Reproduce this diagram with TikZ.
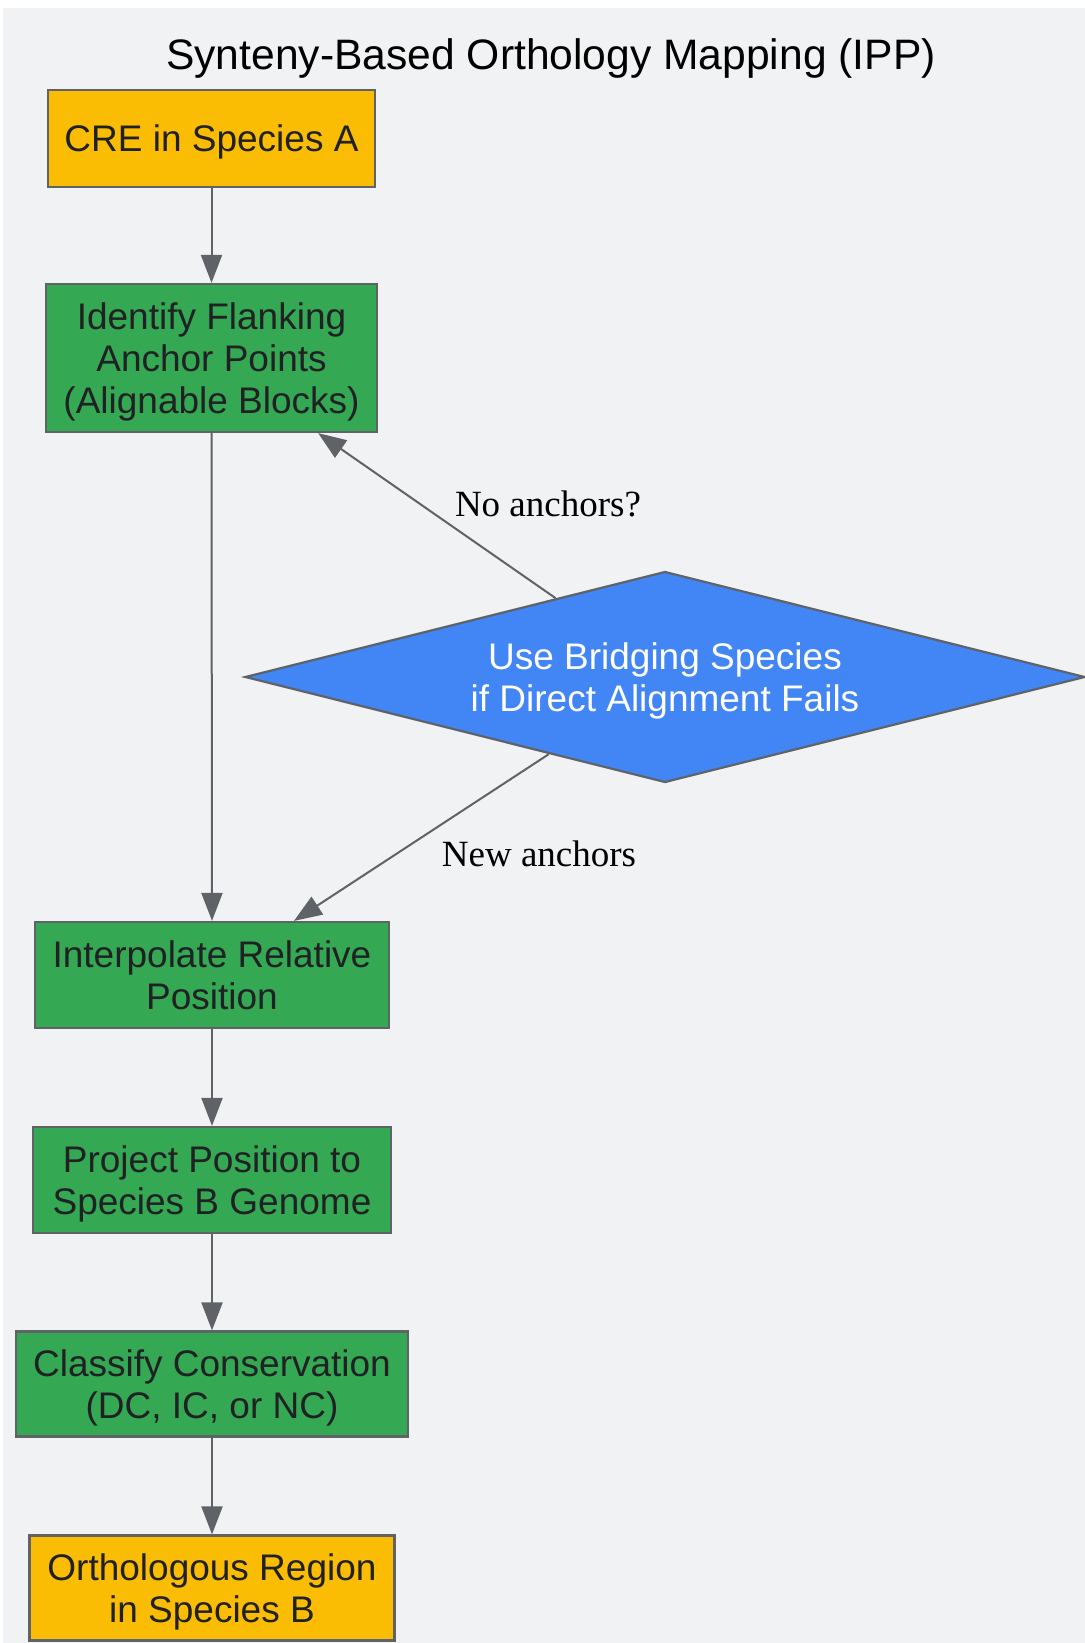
\documentclass[tikz,border=0pt]{standalone}
\usepackage{fontspec}
\setmainfont{Liberation Sans}
\newfontfamily\labelfont{Liberation Serif}
\usetikzlibrary{shapes.geometric,arrows.meta,calc}
\definecolor{bg}{HTML}{F1F2F4}
\definecolor{gyellow}{HTML}{FBBC04}
\definecolor{ggreen}{HTML}{34A853}
\definecolor{gblue}{HTML}{4285F4}
\definecolor{bordergray}{HTML}{5F6368}
\definecolor{textdark}{HTML}{202124}
\tikzset{
  box/.style={draw=bordergray, line width=1.1pt, text=textdark, align=center,
    inner sep=0pt, text depth=-3.2pt, font=\fontsize{18.5}{21}\selectfont},
  yellowbox/.style={box, fill=gyellow},
  greenbox/.style={box, fill=ggreen},
  decision/.style={diamond, aspect=4, draw=bordergray, line width=1.1pt, fill=gblue,
    text=white, align=center, inner sep=0pt, text depth=-3.2pt, font=\fontsize{18.5}{21}\selectfont},
  arr/.style={draw=bordergray, line width=1pt, -{Triangle[length=14pt,width=10.5pt]}},
  edgelabel/.style={font=\labelfont\fontsize{18.5}{21}\selectfont, text=black, inner sep=0pt},
  titlestyle/.style={font=\fontsize{21.3}{24}\selectfont, text=black, inner sep=0pt}
}
\begin{document}
\begin{tikzpicture}[x=0.5pt,y=-0.5pt]
\useasboundingbox (0,0) rectangle (1085,1643);
\fill[bg] (3,8) rectangle (1085,1643);

\node[titlestyle, anchor=base] (title) at (551,70) {Synteny-Based Orthology Mapping (IPP)};

\node[yellowbox, minimum width=163.5pt, minimum height=48.5pt] (cre) at (211.5,138.5) {CRE in Species A};
\node[greenbox, minimum width=165.5pt, minimum height=74pt] (idf) at (211.5,358) {Identify Flanking\\Anchor Points\\(Alignable Blocks)};
\node[decision, minimum width=420pt, minimum height=105.5pt] (dia) at (665,677) {Use Bridging Species\\if Direct Alignment Fails};
\node[greenbox, minimum width=177pt, minimum height=53pt] (interp) at (212,975) {Interpolate Relative\\Position};
\node[greenbox, minimum width=178.75pt, minimum height=53pt] (proj) at (212,1180) {Project Position to\\Species B Genome};
\node[greenbox, minimum width=196pt, minimum height=52.5pt] (cls) at (212,1384) {Classify Conservation\\(DC, IC, or NC)};
\node[yellowbox, minimum width=182.5pt, minimum height=52.5pt] (orth) at (212,1588) {Orthologous Region\\in Species B};

\draw[arr] (cre.south) -- (idf.north);
\draw[arr] (idf.south) -- (interp.north);
\draw[arr] (interp.south) -- (proj.north);
\draw[arr] (proj.south) -- (cls.north);
\draw[arr] (cls.south) -- (orth.north);

\coordinate (d1) at ($(dia.west)!0.74!(dia.north)$);
\coordinate (i1) at ($(idf.south west)!0.82!(idf.south east)$);
\draw[arr] (d1) -- (i1);
\coordinate (d2) at ($(dia.west)!0.724!(dia.south)$);
\coordinate (p1) at ($(interp.north west)!0.73!(interp.north east)$);
\draw[arr] (d2) -- (p1);

\node[edgelabel] (lblno) at (548,504) {No anchors?};
\node[edgelabel] (lblnew) at (539,854) {New anchors};
\end{tikzpicture}
\end{document}
